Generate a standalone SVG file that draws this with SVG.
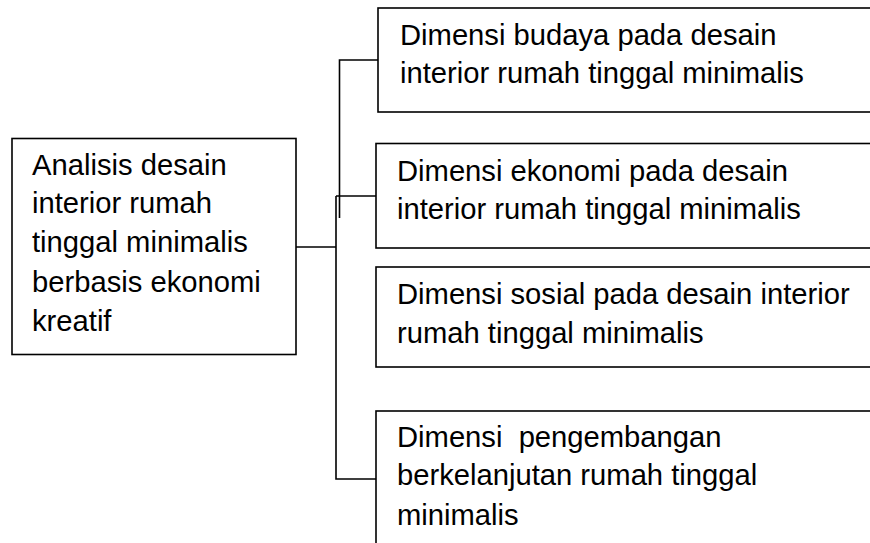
<svg xmlns="http://www.w3.org/2000/svg" width="870" height="543" viewBox="0 0 870 543">
  <style>
    .box { fill: #ffffff; stroke: #000000; stroke-width: 1.6; }
    .lbl { font-family: "Liberation Sans", Arial, sans-serif; font-size: 29.2px; fill: #000000; white-space: pre; }
    .wire { fill: none; stroke: #000000; stroke-width: 1.6; }
  </style>
  <rect width="870" height="543" fill="#ffffff"/>

  <!-- connectors -->
  <g id="connectors">
    <path class="wire" d="M296 247 H336"/>
    <path class="wire" d="M336 196 V479 H376"/>
    <path class="wire" d="M336 196 H376"/>
    <path class="wire" d="M339.5 218 V60 H378"/>
  </g>

  <!-- root -->
  <g id="root">
    <rect class="box" x="12" y="138.5" width="284" height="216"/>
    <text class="lbl" x="32" y="175">Analisis desain</text>
    <text class="lbl" x="32" y="213">interior rumah</text>
    <text class="lbl" x="32" y="252">tinggal minimalis</text>
    <text class="lbl" x="32" y="292">berbasis ekonomi</text>
    <text class="lbl" x="32" y="331">kreatif</text>
  </g>

  <g id="budaya">
    <rect class="box" x="378" y="8" width="520" height="104"/>
    <text class="lbl" x="400" y="45">Dimensi budaya pada desain</text>
    <text class="lbl" x="400" y="83">interior rumah tinggal minimalis</text>
  </g>

  <g id="ekonomi">
    <rect class="box" x="376" y="143.5" width="520" height="104.5"/>
    <text class="lbl" x="397" y="181">Dimensi ekonomi pada desain</text>
    <text class="lbl" x="397" y="219">interior rumah tinggal minimalis</text>
  </g>

  <g id="sosial">
    <rect class="box" x="376" y="267" width="520" height="100"/>
    <text class="lbl" x="397" y="304">Dimensi sosial pada desain interior</text>
    <text class="lbl" x="397" y="343">rumah tinggal minimalis</text>
  </g>

  <g id="pengembangan">
    <rect class="box" x="376" y="411" width="520" height="160"/>
    <text class="lbl" x="397" y="447">Dimensi  pengembangan</text>
    <text class="lbl" x="397" y="485">berkelanjutan rumah tinggal</text>
    <text class="lbl" x="397" y="525">minimalis</text>
  </g>
</svg>
